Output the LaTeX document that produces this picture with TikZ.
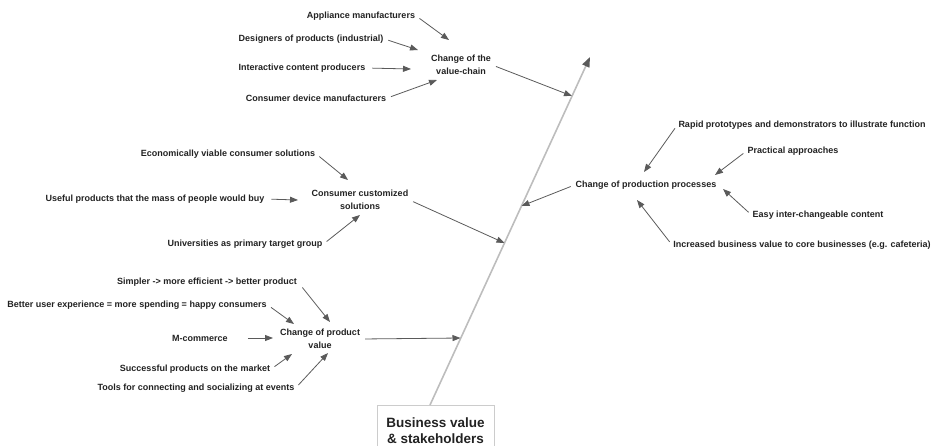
\documentclass[tikz,border=0pt]{standalone}
\usepackage{fontspec}
\setmainfont{Liberation Sans}
\usetikzlibrary{arrows.meta}
\definecolor{txt}{HTML}{222222}
\definecolor{arr}{HTML}{5A5A5A}
\definecolor{spinec}{HTML}{BDBDBD}
\definecolor{boxc}{HTML}{CCCCCC}
\begin{document}
\begin{tikzpicture}[x=1pt,y=-1pt,
  lbl/.style={font=\bfseries\fontsize{9}{11}\selectfont, text=txt, inner sep=1pt},
  grp/.style={font=\bfseries\fontsize{9}{13.5}\selectfont, text=txt, inner sep=1pt, align=center},
  con/.style={draw=arr, line width=0.8pt, shorten <=4pt, -{Triangle[length=8pt,width=6pt]}},
  spine/.style={draw=spinec, line width=1.6pt, -{Triangle[length=10pt,width=7.5pt,color=arr]}}]
\useasboundingbox (0,0) rectangle (937,445);
\clip (0,0) rectangle (937,445);

% spine
\coordinate (sb) at (430,405);
\coordinate (st) at (590,57);
\coordinate (sA) at (572,96);
\coordinate (sB) at (504.5,243);
\coordinate (sC) at (460.5,338);
\coordinate (sD) at (521.5,206);

% head box
\node[draw=boxc, line width=0.8pt, fill=white, font=\bfseries\fontsize{13.5}{15.5}\selectfont,
      text=txt, align=center, anchor=north, minimum width=117pt, minimum height=50pt,
      inner ysep=5pt, text depth=0pt] (E) at (435.5,405) {Business value\\\& stakeholders};
\path[spine] (sb) -- (st);

% value chain group
\node[grp] (A) at (461,65) {Change of the\\value-chain};
\node[lbl] (a1) at (361,16) {Appliance manufacturers};
\node[lbl] (a2) at (311,39) {Designers of products (industrial)};
\node[lbl] (a3) at (302,68) {Interactive content producers};
\node[lbl] (a4) at (316,98) {Consumer device manufacturers};
\coordinate (A1) at (449,40);
\coordinate (A2) at (418,50);
\coordinate (A3) at (411,69);
\coordinate (A4) at (437,80);
\draw[con] (a1.east) -- (A1);
\draw[con] (a2.east) -- (A2);
\draw[con,shorten <=6pt] (a3.east) -- (A3);
\draw[con] (a4.east) -- (A4);
\draw[con] (A.east) -- (sA);

% consumer group
\node[grp] (B) at (360,200) {Consumer customized\\solutions};
\node[lbl] (b1) at (228,154) {Economically viable consumer solutions};
\node[lbl] (b2) at (155,199) {Useful products that the mass of people would buy};
\node[lbl] (b3) at (245,244) {Universities as primary target group};
\coordinate (B1) at (348,180);
\coordinate (B2) at (298,200);
\coordinate (B3) at (360,215);
\draw[con] (b1.east) -- (B1);
\draw[con,shorten <=6pt] (b2.east) -- (B2);
\draw[con] (b3.east) -- (B3);
\draw[con] (B.east) -- (sB);

% product group
\node[grp] (C) at (320,339) {Change of product\\value};
\node[lbl] (c1) at (207,282) {Simpler -> more efficient -> better product};
\node[lbl] (c2) at (137,305) {Better user experience = more spending = happy consumers};
\node[lbl] (c3) at (200,338) {M-commerce};
\node[lbl] (c4) at (195,369) {Successful products on the market};
\node[lbl] (c5) at (196,388) {Tools for connecting and socializing at events};
\coordinate (C1) at (330,322);
\coordinate (C2) at (294,324);
\coordinate (C3) at (273,338);
\coordinate (C4) at (292,354);
\coordinate (C5) at (328,353);
\draw[con,shorten <=7pt] (c1.east) -- (C1);
\draw[con] (c2.east) -- (C2);
\draw[con,shorten <=19pt] (c3.east) -- (C3);
\draw[con] (c4.east) -- (C4);
\draw[con] (c5.east) -- (C5);
\draw[con] (C.east) -- (sC);

% production group
\node[grp] (D) at (646,185) {Change of production processes};
\node[lbl] (d1) at (802,125) {Rapid prototypes and demonstrators to illustrate function};
\node[lbl] (d2) at (793,151) {Practical approaches};
\node[lbl] (d3) at (818,215) {Easy inter-changeable content};
\node[lbl] (d4) at (802,245) {Increased business value to core businesses (e.g. cafeteria)};
\coordinate (D1) at (644,172);
\coordinate (D2) at (715,175);
\coordinate (D3) at (723,189);
\coordinate (D4) at (637,200);
\draw[con] (d1.west) -- (D1);
\draw[con] (d2.west) -- (D2);
\draw[con] (d3.west) -- (D3);
\draw[con] (d4.west) -- (D4);
\draw[con] (D.west) -- (sD);
\end{tikzpicture}
\end{document}
